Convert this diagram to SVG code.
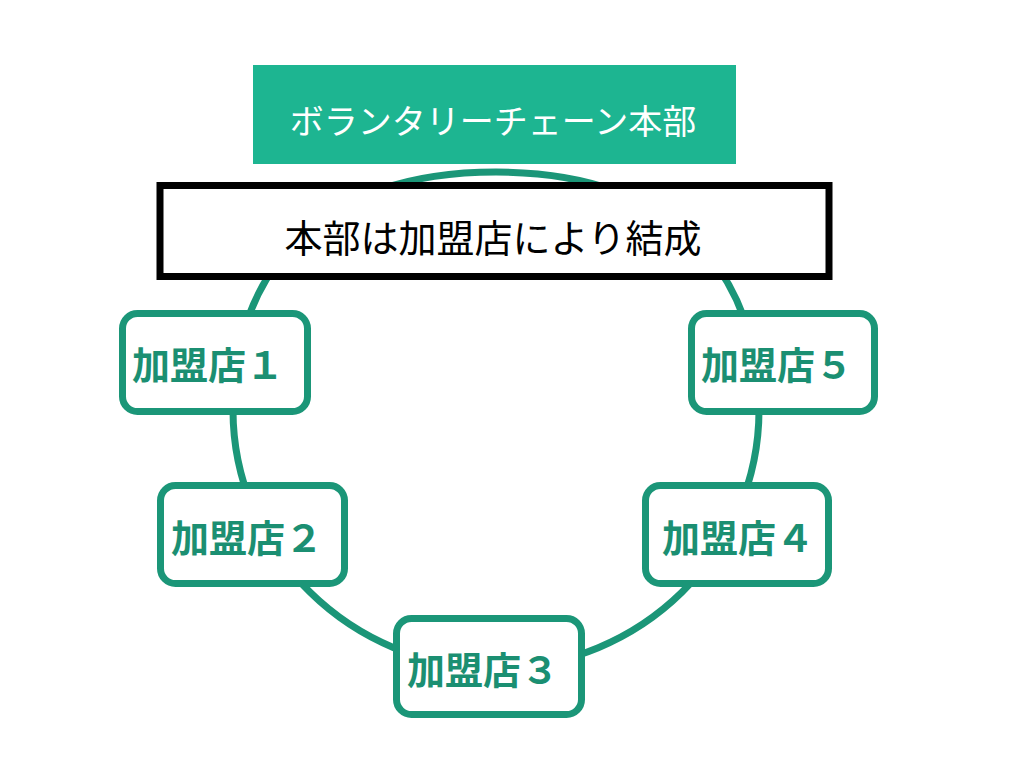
<svg xmlns="http://www.w3.org/2000/svg" width="1024" height="768" viewBox="0 0 1024 768">
  <style>
    .ring { fill: none; stroke: #1b9678; stroke-width: 7; }
    .node rect { fill: #ffffff; stroke: #1b9678; stroke-width: 7; }
    .node text { fill: #1b8f72; font-family: "Noto Sans CJK JP", "Noto Sans", sans-serif; font-weight: bold; font-size: 38px; }
    .title { fill: #ffffff; font-family: "Noto Sans CJK JP", "Noto Sans", sans-serif; font-size: 34px; }
    .note { fill: #000000; font-family: "Noto Sans CJK JP", "Noto Sans", sans-serif; font-size: 38px; }
  </style>
  <rect x="0" y="0" width="1024" height="768" fill="#ffffff"/>
  <g id="connectors">
    <path class="ring" d="M 496,172 C 680,172 759,279 759,410 C 759,552 641,668 496,668 C 351,668 233,552 233,410 C 233,279 312,172 496,172 Z"/>
  </g>
  <g id="hq">
    <rect x="253" y="65" width="483" height="99" fill="#1db591"/>
    <text class="title" x="493" y="134" text-anchor="middle">ボランタリーチェーン本部</text>
  </g>
  <g id="note">
    <rect x="160" y="185.5" width="669" height="91" fill="#ffffff" stroke="#000000" stroke-width="7"/>
    <text class="note" x="493" y="252" text-anchor="middle">本部は加盟店により結成</text>
  </g>
  <g id="store1" class="node">
    <rect x="122.5" y="313.5" width="185" height="98" rx="15"/>
    <text x="132" y="379">加盟店１</text>
  </g>
  <g id="store2" class="node">
    <rect x="160.5" y="485.5" width="184" height="98" rx="15"/>
    <text x="171" y="552">加盟店２</text>
  </g>
  <g id="store3" class="node">
    <rect x="396.5" y="618.5" width="185" height="96" rx="15"/>
    <text x="407" y="684">加盟店３</text>
  </g>
  <g id="store4" class="node">
    <rect x="645.5" y="485.5" width="183" height="98" rx="15"/>
    <text x="662" y="552">加盟店４</text>
  </g>
  <g id="store5" class="node">
    <rect x="691.5" y="313.5" width="183" height="98" rx="15"/>
    <text x="701" y="379">加盟店５</text>
  </g>
</svg>
